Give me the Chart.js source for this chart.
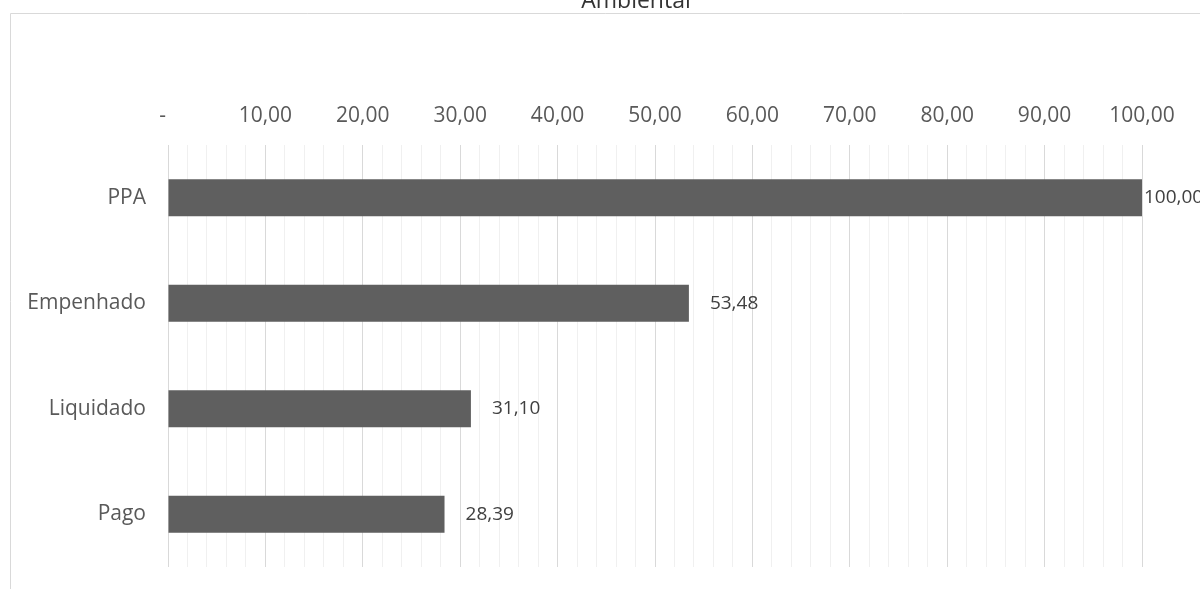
<!DOCTYPE html>
<html lang="pt-BR">
<head>
<meta charset="utf-8">
<title>Ambiental</title>
<script src="https://cdn.jsdelivr.net/npm/chart.js@4/dist/chart.umd.min.js"></script>
<style>
  html, body { margin: 0; padding: 0; background: #fff; }
  #wrap { position: relative; width: 1200px; height: 589px; }
</style>
</head>
<body>
<div id="wrap">
  <canvas id="graficoAmbiental" width="1200" height="589"></canvas>
</div>
<script>
// dados do gráfico
const titulo = 'Ambiental';
const categorias = ['PPA', 'Empenhado', 'Liquidado', 'Pago'];
const valores = [100.00, 53.48, 31.10, 28.39];
const rotulosEixo = ['-  ', '10,00', '20,00', '30,00', '40,00', '50,00', '60,00', '70,00', '80,00', '90,00', '100,00'];

const fonte = '"Open Sans", "Liberation Sans", sans-serif';

const formatar = (v) => v.toFixed(2).replace('.', ',');

// moldura e título (o título fica cortado no topo, como no original)
const molduraPlugin = {
  id: 'moldura',
  beforeDraw(chart) {
    const { ctx } = chart;
    ctx.save();
    ctx.strokeStyle = '#d9d9d9';
    ctx.lineWidth = 1;
    ctx.beginPath();
    ctx.moveTo(10.5, 589);
    ctx.lineTo(10.5, 13.5);
    ctx.lineTo(1200, 13.5);
    ctx.stroke();

    ctx.fillStyle = '#333333';
    ctx.font = `23px ${fonte}`;
    ctx.textAlign = 'center';
    ctx.textBaseline = 'alphabetic';
    ctx.fillText(titulo, 636, 8);
    ctx.restore();
  },
};

// rótulos de valor no fim de cada barra
const rotulosPlugin = {
  id: 'rotulosValor',
  afterDatasetsDraw(chart) {
    const { ctx, chartArea } = chart;
    const meta = chart.getDatasetMeta(0);
    ctx.save();
    ctx.fillStyle = '#404040';
    ctx.font = `19px ${fonte}`;
    ctx.textAlign = 'left';
    ctx.textBaseline = 'middle';
    meta.data.forEach((barra, i) => {
      const x = Math.min(barra.x + 21, chartArea.right + 2);
      ctx.fillText(formatar(valores[i]), x, barra.y);
    });
    ctx.restore();
  },
};

const ctx = document.getElementById('graficoAmbiental').getContext('2d');

const grafico = new Chart(ctx, {
  type: 'bar',
  data: {
    labels: categorias,
    datasets: [{
      data: valores,
      backgroundColor: '#5f5f5f',
      borderWidth: 0,
      barPercentage: 0.35,
      categoryPercentage: 1,
    }],
  },
  plugins: [molduraPlugin, rotulosPlugin],
  options: {
    indexAxis: 'y',
    responsive: false,
    animation: false,
    layout: {
      padding: { left: 0, right: 58, top: 0, bottom: 22 },
    },
    plugins: {
      legend: { display: false },
      tooltip: { enabled: false },
      title: { display: false },
    },
    scales: {
      x: {
        position: 'top',
        min: 0,
        max: 100,
        border: { display: false },
        grid: {
          drawTicks: false,
          color: (c) => (c.tick && c.tick.value % 10 === 0 ? '#d9d9d9' : '#f0f0f0'),
        },
        ticks: {
          stepSize: 2,
          autoSkip: false,
          maxRotation: 0,
          padding: 16,
          color: '#595959',
          font: { family: fonte, size: 21 },
          callback: (v) => (v % 10 === 0 ? rotulosEixo[v / 10] : ''),
        },
        afterFit: (scale) => { scale.height = 145; },
      },
      y: {
        border: { display: false },
        grid: { display: false, drawTicks: false },
        ticks: {
          padding: 22,
          color: '#595959',
          font: { family: fonte, size: 21 },
        },
        afterFit: (scale) => {
          scale.width = 168;
          scale.paddingTop = 0;
          scale.paddingBottom = 0;
        },
      },
    },
  },
});
</script>
</body>
</html>
